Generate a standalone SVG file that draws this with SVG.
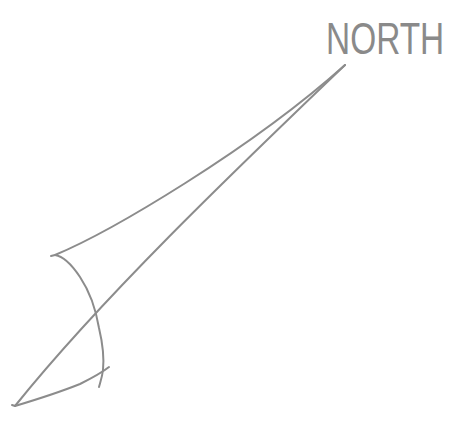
<svg xmlns="http://www.w3.org/2000/svg" width="458" height="424" viewBox="0 0 458 424">
<style>
.s{fill:none;stroke:#8c8c8c;stroke-width:2;stroke-linecap:round;stroke-linejoin:round}
.t{font-family:"Liberation Sans",Arial,sans-serif;font-size:44px;fill:#8a8a8a}
</style>
<rect width="458" height="424" fill="#fff"/>
<g id="label"><text class="t" transform="translate(326,54) scale(0.76,1)" x="0" y="0">NORTH</text></g>
<g id="arrow">
<path class="s" d="M345,65 C250,150 110,232 55,255 L51,256"/>
<path class="s" d="M345,65 C230,175 100,300 15,406 L12,405"/>
<path class="s" d="M55,255 C62,256 70,262 80,277 C90,292 96,310 99,328 C103,345 104,360 103,370 C102,378 100,383 99,387"/>
<path class="s" d="M15,406 C35,400 60,392 80,384 C92,378 100,374 109,367"/>
</g>
</svg>
